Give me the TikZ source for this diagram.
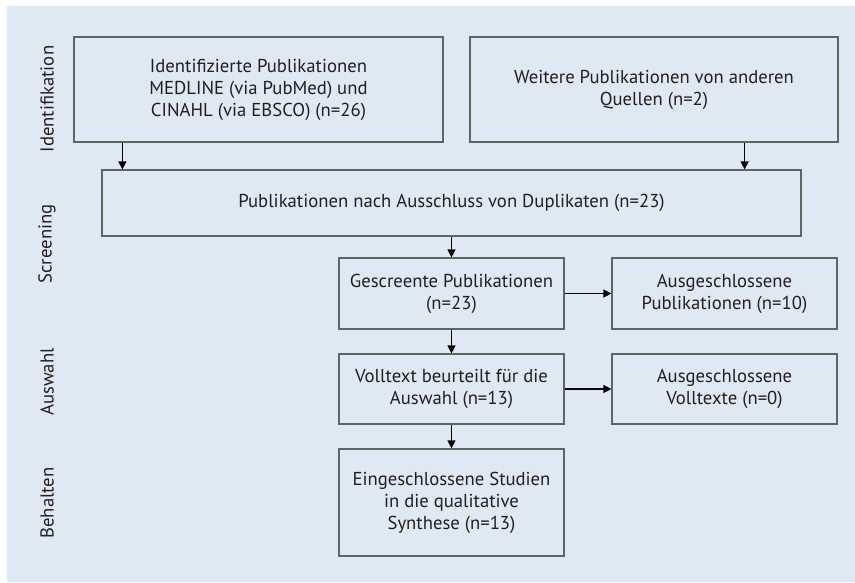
\documentclass[tikz,border=0pt]{standalone}
\usepackage{fontspec}
\setmainfont{PT Sans}
\usetikzlibrary{arrows.meta}
\definecolor{panelbg}{RGB}{223,233,243}
\definecolor{boxline}{RGB}{90,104,100}
\definecolor{txt}{RGB}{35,31,32}
\tikzset{
  flowbox/.style={draw=boxline, line width=1.2pt, inner sep=0pt, align=center,
    font=\fontsize{18.7}{22}\selectfont, text=txt},
  phase/.style={rotate=90, font=\fontsize{18.7}{22}\selectfont, text=txt, inner sep=0pt},
  arr/.style={draw=black, line width=1.2pt, -{Triangle[length=8pt,width=8pt]}}
}
\begin{document}
\begin{tikzpicture}[x=1pt,y=-1pt]
\useasboundingbox (0,0) rectangle (855,582);
\fill[white] (0,0) rectangle (855,582);
\fill[panelbg] (7,6) rectangle (855,582);

\node[flowbox, minimum width=369pt, minimum height=105pt] (b1) at (258.5,89.5)
  {Identifizierte Publikationen\\MEDLINE (via PubMed) und\\CINAHL (via EBSCO) (n=26)};
\node[flowbox, minimum width=368pt, minimum height=105pt] (b2) at (654,89.5)
  {Weitere Publikationen von anderen\\Quellen (n=2)};
\node[flowbox, minimum width=699pt, minimum height=66pt] (b3) at (451.5,203)
  {Publikationen nach Ausschluss von Duplikaten (n=23)};
\node[flowbox, minimum width=225pt, minimum height=71pt] (b4) at (451.5,293.5)
  {Gescreente Publikationen\\(n=23)};
\node[flowbox, minimum width=225pt, minimum height=71pt] (b5) at (724.5,293.5)
  {Ausgeschlossene\\Publikationen (n=10)};
\node[flowbox, minimum width=225pt, minimum height=70pt] (b6) at (451.5,389)
  {Volltext beurteilt f\"ur die\\Auswahl (n=13)};
\node[flowbox, minimum width=225pt, minimum height=70pt] (b7) at (724.5,389)
  {Ausgeschlossene\\Volltexte (n=0)};
\node[flowbox, minimum width=225pt, minimum height=107pt] (b8) at (451.5,502.5)
  {Eingeschlossene Studien\\in die qualitative\\Synthese (n=13)};

\node[phase] (p1) at (47,99) {Identifikation};
\node[phase] (p2) at (47,244) {Screening};
\node[phase] (p3) at (47,382) {Auswahl};
\node[phase] (p4) at (47,503) {Behalten};

\draw[arr] ([xshift=49pt]b1.south west) -- ([xshift=21pt]b3.north west);
\draw[arr] ([xshift=-94pt]b2.south east) -- ([xshift=-57pt]b3.north east);
\draw[arr] (b3.south) -- (b4.north);
\draw[arr] (b4.east) -- (b5.west);
\draw[arr] (b4.south) -- (b6.north);
\draw[arr] (b6.east) -- (b7.west);
\draw[arr] (b6.south) -- (b8.north);
\end{tikzpicture}
\end{document}
